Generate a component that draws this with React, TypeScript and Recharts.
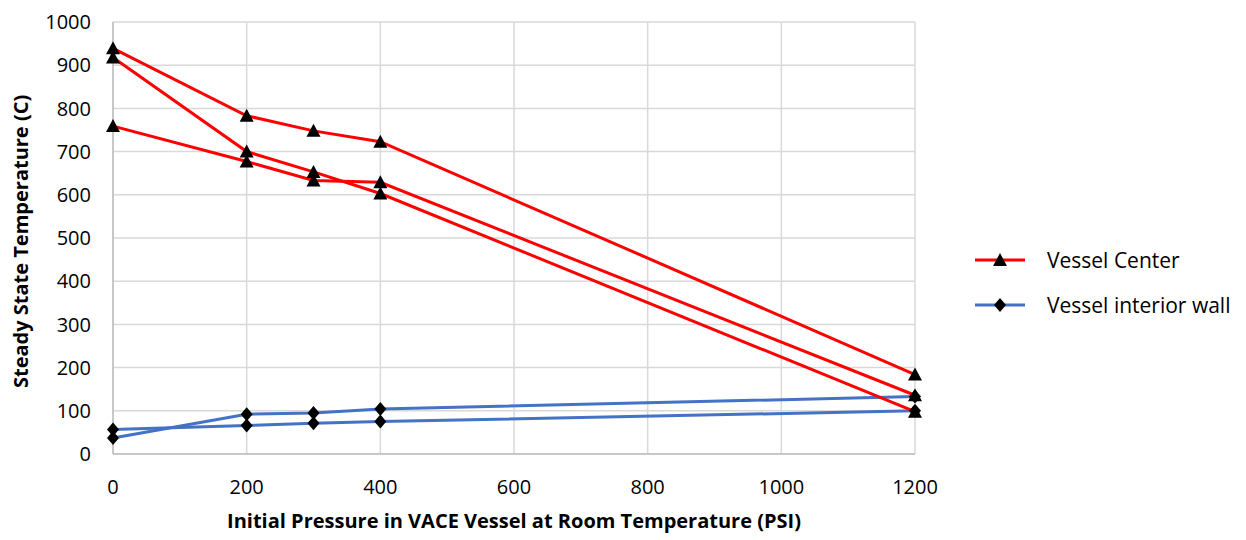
import React from "react";
import { CartesianGrid, Line, LineChart, XAxis, YAxis } from "recharts";

// pressure (PSI) shared by every run
const PRESSURE = [0, 200, 300, 400, 1200];

// Vessel Center runs (C)
const CENTER_A = [939, 783, 748, 723, 184];
const CENTER_B = [918, 700, 653, 603, 98];
const CENTER_C = [759, 677, 633, 629, 136];

// Vessel interior wall runs (C)
const WALL_A = [37, 92, 95, 104, 133];
const WALL_B = [57, 66, 71, 75, 100];

const X_TICKS = [0, 200, 400, 600, 800, 1000, 1200];
const Y_TICKS = [0, 100, 200, 300, 400, 500, 600, 700, 800, 900, 1000];

const RED = "#ff0000";
const BLUE = "#4472c4";
const FONT = "'Open Sans', sans-serif";

const toPoints = (ys: number[]) => PRESSURE.map((x, i) => ({ x, y: ys[i] }));

const centerRuns = [CENTER_A, CENTER_B, CENTER_C];
const wallRuns = [WALL_A, WALL_B];

function triangle(cx: number, cy: number) {
  return `${cx},${cy - 7} ${cx + 7},${cy + 6} ${cx - 7},${cy + 6}`;
}

function diamond(cx: number, cy: number) {
  return `${cx},${cy - 7} ${cx + 6},${cy} ${cx},${cy + 7} ${cx - 6},${cy}`;
}

const TriangleDot = (props: any) => {
  const { cx, cy, index } = props;
  if (cx == null || cy == null) return <g key={`t-${index}`} />;
  return <polygon key={`t-${index}`} points={triangle(cx, cy)} fill="#000" />;
};

const DiamondDot = (props: any) => {
  const { cx, cy, index } = props;
  if (cx == null || cy == null) return <g key={`d-${index}`} />;
  return <polygon key={`d-${index}`} points={diamond(cx, cy)} fill="#000" />;
};

const LEGEND = [
  { label: "Vessel Center", color: RED, marker: "triangle" },
  { label: "Vessel interior wall", color: BLUE, marker: "diamond" },
];

function LegendBox() {
  return (
    <div
      style={{
        position: "absolute",
        left: 970,
        top: 237,
        fontFamily: FONT,
        fontSize: 21,
        color: "#000",
      }}
    >
      {LEGEND.map((item) => (
        <div
          key={item.label}
          style={{ display: "flex", alignItems: "center", height: 45 }}
        >
          <svg width={60} height={20} style={{ marginRight: 17 }}>
            <line x1={5} y1={10} x2={55} y2={10} stroke={item.color} strokeWidth={3} />
            <polygon
              points={item.marker === "triangle" ? triangle(30, 10) : diamond(30, 10)}
              fill="#000"
            />
          </svg>
          <span>{item.label}</span>
        </div>
      ))}
    </div>
  );
}

export default function App() {
  return (
    <div
      style={{
        position: "absolute",
        left: 0,
        top: 0,
        width: 1246,
        height: 540,
        background: "#fff",
      }}
    >
      <LineChart
        width={1246}
        height={540}
        margin={{ top: 22, right: 331, bottom: 0, left: 43 }}
      >
        <CartesianGrid stroke="#d9d9d9" strokeWidth={1.5} />
        <XAxis
          type="number"
          dataKey="x"
          domain={[0, 1200]}
          ticks={X_TICKS}
          allowDuplicatedCategory={false}
          height={86}
          stroke="#bfbfbf"
          strokeWidth={1.5}
          tickLine={false}
          tickSize={0}
          tickMargin={26}
          tick={{ fill: "#000", fontSize: 20, fontFamily: FONT }}
          label={{
            value: "Initial Pressure in VACE Vessel at Room Temperature (PSI)",
            position: "insideBottom",
            offset: 12,
            fill: "#000",
            fontSize: 20,
            fontWeight: "bold",
            fontFamily: FONT,
          }}
        />
        <YAxis
          type="number"
          dataKey="y"
          domain={[0, 1000]}
          ticks={Y_TICKS}
          width={70}
          stroke="#bfbfbf"
          strokeWidth={1.5}
          tickLine={false}
          tickSize={0}
          tickMargin={22}
          tick={{ fill: "#000", fontSize: 20, fontFamily: FONT }}
          label={{
            value: "Steady State Temperature (C)",
            angle: -90,
            position: "insideLeft",
            offset: -22,
            dy: 150,
            fill: "#000",
            fontSize: 20,
            fontWeight: "bold",
            fontFamily: FONT,
          }}
        />
        {wallRuns.map((run, i) => (
          <Line
            key={`wall-${i}`}
            data={toPoints(run)}
            dataKey="y"
            name="Vessel interior wall"
            stroke={BLUE}
            strokeWidth={3}
            dot={DiamondDot}
            activeDot={false}
            isAnimationActive={false}
          />
        ))}
        {centerRuns.map((run, i) => (
          <Line
            key={`center-${i}`}
            data={toPoints(run)}
            dataKey="y"
            name="Vessel Center"
            stroke={RED}
            strokeWidth={3}
            dot={TriangleDot}
            activeDot={false}
            isAnimationActive={false}
          />
        ))}
      </LineChart>
      <LegendBox />
    </div>
  );
}
